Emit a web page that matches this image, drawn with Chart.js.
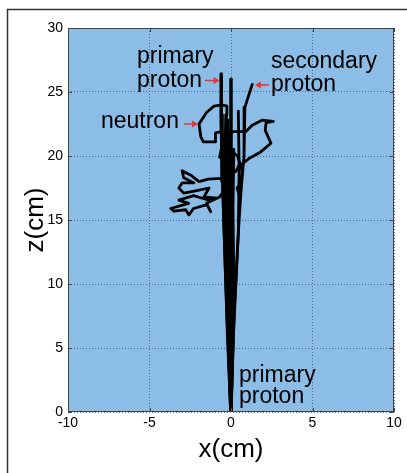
<!DOCTYPE html>
<html>
<head>
<meta charset="utf-8">
<script src="https://cdn.jsdelivr.net/npm/chart.js@4/dist/chart.umd.min.js"></script>
<style>
  html, body { margin: 0; padding: 0; background: #fff; }
  #wrap { width: 407px; height: 473px; }
</style>
</head>
<body>
<div id="wrap"><canvas id="trackChart" width="407" height="473"></canvas></div>
<script>
// axis ticks
const xTicks = [-10, -5, 0, 5, 10];
const zTicks = [0, 5, 10, 15, 20, 25, 30];

// primary proton bundle (x, z in cm)
const primaryA = [[0, 0], [-0.15, 5], [-0.3, 10], [-0.45, 16], [-0.6, 22.6], [-0.6, 26.4]];
const primaryB = [[0, 0], [0, 26.0]];
const primaryC = [[0, 0], [-0.2, 6], [-0.35, 12], [-0.5, 18], [-0.55, 23.2]];
const primaryD = [[0, 0], [-0.12, 6], [-0.22, 12], [-0.35, 20], [-0.3, 23.2]];
const primaryE = [[0, 0], [-0.05, 10], [-0.2, 21], [-0.2, 22.8]];
const primaryF = [[0, 0], [0.08, 5], [0.15, 10], [0.1, 16], [0.15, 20.5]];

// secondary proton tracks
const secondaryA = [[1.3, 25.6], [0.85, 23.8], [0.8, 20], [0.6, 17], [0.45, 14], [0.3, 10], [0.15, 6], [0, 0]];
const secondaryB = [[0.45, 23.5], [0.5, 19], [0.45, 14], [0.2, 8], [0, 0]];

// neutron random walk
const neutron = [
  [-0.25, 23.2], [-0.25, 23.9], [-0.55, 24.0], [-1.05, 23.9], [-1.5, 23.4], [-1.96, 22.5],
  [-1.85, 21.5], [-1.7, 21.1], [-0.95, 21.1], [-0.95, 21.8], [-0.6, 21.9], [-0.4, 21.0],
  [-0.6, 20.5], [-0.7, 19.9], [-0.3, 19.6], [0.1, 20.3], [0.4, 20.0], [0.55, 19.4],
  [0.3, 18.8], [-0.1, 18.6], [-0.6, 18.25], [-1.4, 18.2], [-1.96, 18.0], [-2.47, 18.5],
  [-3.0, 18.85], [-2.9, 18.3], [-2.27, 17.9], [-3.0, 17.9], [-3.2, 17.5], [-2.9, 17.1],
  [-2.1, 17.3], [-1.35, 17.5], [-1.66, 16.8], [-0.86, 16.7], [-1.5, 16.6], [-2.3, 16.9],
  [-3.2, 16.55], [-2.6, 16.3], [-3.7, 15.9], [-3.5, 15.7], [-2.78, 15.8], [-2.58, 15.4],
  [-2.3, 15.9], [-1.47, 16.2], [-1.25, 15.65], [-1.5, 16.3], [-0.7, 16.8], [-0.3, 17.5],
  [-0.1, 19.0], [0.0, 21.9], [0.9, 21.9], [1.3, 22.4], [1.9, 22.8], [2.6, 22.7],
  [2.15, 22.6], [2.1, 22.0], [2.45, 21.0], [1.8, 20.3], [1.1, 19.8], [0.6, 19.3],
  [0.68, 18.8], [0.6, 17.9], [0.37, 17.5], [0.5, 17.0]
];

// text labels: [text, x, z] (left edge, baseline)
const labels = [
  ["primary", -5.77, 27.3], ["proton", -5.77, 25.4],
  ["secondary", 2.45, 26.9], ["proton", 2.45, 25.1],
  ["neutron", -7.98, 22.2],
  ["primary", 0.49, 2.35], ["proton", 0.49, 0.7]
];
// red arrows: [fromX, fromZ, toX, toZ]
const arrows = [
  [-1.6, 25.9, -0.7, 25.9],
  [2.33, 25.55, 1.47, 25.55],
  [-2.88, 22.5, -2.02, 22.5]
];

const toPts = arr => arr.map(p => ({ x: p[0], y: p[1] }));

function track(data, width) {
  return {
    data: toPts(data),
    showLine: true,
    borderColor: "#000",
    borderWidth: width,
    pointRadius: 0,
    tension: 0,
    borderJoinStyle: "round",
    borderCapStyle: "round"
  };
}

const frame = {
  id: "frame",
  beforeDraw(chart) {
    const { ctx, chartArea: a } = chart;
    ctx.save();
    ctx.fillStyle = "#fff";
    ctx.fillRect(0, 0, chart.width, chart.height);
    ctx.fillStyle = "#8cbde6";
    ctx.fillRect(a.left, a.top, a.right - a.left, a.bottom - a.top);
    ctx.strokeStyle = "#333";
    ctx.lineWidth = 1.5;
    ctx.beginPath();
    ctx.moveTo(7.5, chart.height);
    ctx.lineTo(7.5, 9.5);
    ctx.lineTo(chart.width, 9.5);
    ctx.stroke();
    ctx.restore();
  },
  afterDraw(chart) {
    const { ctx, chartArea: a, scales } = chart;
    const xs = scales.x, ys = scales.y;
    ctx.save();
    // plot box and inside ticks
    ctx.strokeStyle = "#444";
    ctx.lineWidth = 1;
    ctx.strokeRect(a.left + 0.5, a.top + 0.5, a.right - a.left - 1, a.bottom - a.top - 1);
    ctx.beginPath();
    xTicks.forEach(v => {
      const px = Math.round(xs.getPixelForValue(v)) + 0.5;
      ctx.moveTo(px, a.bottom); ctx.lineTo(px, a.bottom - 4);
      ctx.moveTo(px, a.top); ctx.lineTo(px, a.top + 4);
    });
    zTicks.forEach(v => {
      const py = Math.round(ys.getPixelForValue(v)) + 0.5;
      ctx.moveTo(a.left, py); ctx.lineTo(a.left + 4, py);
      ctx.moveTo(a.right, py); ctx.lineTo(a.right - 4, py);
    });
    ctx.stroke();

    // annotations
    ctx.fillStyle = "#000";
    ctx.font = "23px 'Liberation Sans', Arial, sans-serif";
    ctx.textAlign = "left";
    ctx.textBaseline = "alphabetic";
    labels.forEach(([t, x, z]) => ctx.fillText(t, xs.getPixelForValue(x), ys.getPixelForValue(z)));

    ctx.strokeStyle = "#e8323c";
    ctx.fillStyle = "#e8323c";
    ctx.lineWidth = 1.5;
    arrows.forEach(([x0, z0, x1, z1]) => {
      const px0 = xs.getPixelForValue(x0), py0 = ys.getPixelForValue(z0);
      const px1 = xs.getPixelForValue(x1), py1 = ys.getPixelForValue(z1);
      const dir = Math.sign(px1 - px0);
      ctx.beginPath();
      ctx.moveTo(px0, py0); ctx.lineTo(px1 - dir * 3, py1);
      ctx.stroke();
      ctx.beginPath();
      ctx.moveTo(px1, py1);
      ctx.lineTo(px1 - dir * 6, py1 - 3.5);
      ctx.lineTo(px1 - dir * 6, py1 + 3.5);
      ctx.closePath();
      ctx.fill();
    });

    // axis titles
    ctx.fillStyle = "#000";
    ctx.font = "26px 'Liberation Sans', Arial, sans-serif";
    ctx.textAlign = "center";
    ctx.fillText("x(cm)", (a.left + a.right) / 2, 457);
    ctx.translate(43, (a.top + a.bottom) / 2);
    ctx.rotate(-Math.PI / 2);
    ctx.fillText("z(cm)", 0, 0);
    ctx.restore();
  }
};

const gridOpts = {
  color: "rgba(45, 75, 130, 0.75)",
  lineWidth: 1,
  drawTicks: false
};

new Chart(document.getElementById("trackChart"), {
  type: "scatter",
  data: {
    datasets: [
      track(primaryA, 3.5), track(primaryB, 3.5), track(primaryC, 3.5),
      track(primaryD, 3.5), track(primaryE, 3.5), track(primaryF, 3.5),
      track(secondaryA, 2.8), track(secondaryB, 2.8),
      track(neutron, 2.8)
    ]
  },
  options: {
    responsive: false,
    animation: false,
    layout: { padding: { top: 28, right: 13, left: 0, bottom: 0 } },
    plugins: { legend: { display: false }, tooltip: { enabled: false } },
    scales: {
      x: {
        type: "linear",
        min: -10, max: 10,
        afterFit: s => { s.height = 61; },
        afterBuildTicks: s => { s.ticks = xTicks.map(v => ({ value: v })); },
        grid: gridOpts,
        border: { display: false, dash: [1, 2] },
        ticks: {
          color: "#000",
          padding: 3,
          maxRotation: 0,
          font: { family: "'Liberation Sans', Arial, sans-serif", size: 14 }
        }
      },
      y: {
        type: "linear",
        min: 0, max: 30,
        afterFit: s => { s.width = 68; },
        afterBuildTicks: s => { s.ticks = zTicks.map(v => ({ value: v })); },
        grid: gridOpts,
        border: { display: false, dash: [1, 2] },
        ticks: {
          color: "#000",
          padding: 5,
          font: { family: "'Liberation Sans', Arial, sans-serif", size: 14 }
        }
      }
    }
  },
  plugins: [frame]
});
</script>
</body>
</html>
